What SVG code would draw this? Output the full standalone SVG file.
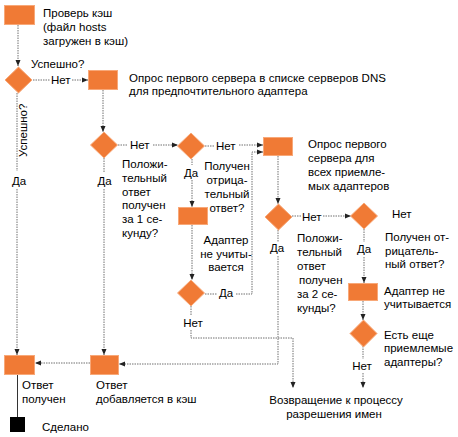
<svg xmlns="http://www.w3.org/2000/svg" width="458" height="437" viewBox="0 0 458 437">
<style>
text{font-family:"Liberation Sans",Arial,sans-serif;font-size:11.5px;fill:#000}
.m{text-anchor:middle}
.box{fill:#f07a35;stroke:#f8a878;stroke-width:1}
.dia{fill:#f07a35;stroke:#f8a878;stroke-width:1}
.c{fill:none;stroke:#707070;stroke-width:1;stroke-dasharray:1.5 1}
.s{fill:none;stroke:#333;stroke-width:1}
</style>
<defs>
<marker id="a" markerUnits="userSpaceOnUse" markerWidth="6" markerHeight="6" refX="6" refY="3" orient="auto">
<path d="M0,0.5 L6,3 L0,5.5 z" fill="#222"/>
</marker>
</defs>
<rect width="458" height="437" fill="#fff"/>
<g id="connectors">
<path class="c" d="M18,25 V66" marker-end="url(#a)"/>
<path class="c" d="M33,80 H50 M72,80 H88" marker-end="url(#a)"/>
<path class="c" d="M103,90 V132" marker-end="url(#a)"/>
<path class="c" d="M17,93 V171 M17,189 V355" marker-end="url(#a)"/>
<path class="c" d="M118,145 H128 M153,145 H178" marker-end="url(#a)"/>
<path class="c" d="M104,158 V172 M104,189 V355" marker-end="url(#a)"/>
<path class="c" d="M205,146 H215 M239,145 H263" marker-end="url(#a)"/>
<path class="c" d="M192,159 V165 M192,180 V207" marker-end="url(#a)"/>
<path class="c" d="M192,225 V280" marker-end="url(#a)"/>
<path class="c" d="M205,294 H217 M236,294 H252 V152 H263" marker-end="url(#a)"/>
<path class="c" d="M191,306 V315 M191,330 V338 H293 V388" marker-end="url(#a)"/>
<path class="c" d="M278,156 V204" marker-end="url(#a)"/>
<path class="c" d="M292,216 H301 M323,216 H351" marker-end="url(#a)"/>
<path class="c" d="M278,230 V242 M278,256 V364 H119" marker-end="url(#a)"/>
<path class="c" d="M90,363 H35" marker-end="url(#a)"/>
<path class="c" d="M364,229 V242 M364,257 V283" marker-end="url(#a)"/>
<path class="c" d="M363,301 V320" marker-end="url(#a)"/>
<path class="c" d="M363,346 V359 M363,373 V388" marker-end="url(#a)"/>
<path class="s" d="M17.5,375 V417"/>
</g>
<g id="check-cache">
<rect class="box" x="4.5" y="5.5" width="30" height="19"/>
<text x="43" y="17">Проверь кэш</text>
<text x="43" y="31">(файл hosts</text>
<text x="43" y="45">загружен в кэш)</text>
</g>
<g id="success1">
<polygon class="dia" points="18.5,67 32,80 18.5,93 5,80"/>
<text x="31" y="68">Успешно?</text>
<text transform="translate(27,157) rotate(-90)">Успешно?</text>
<text class="m" x="19" y="185">Да</text>
<text x="51" y="84">Нет</text>
</g>
<g id="query-preferred">
<rect class="box" x="88.5" y="70.5" width="29" height="19"/>
<text x="129" y="82" textLength="257">Опрос первого сервера в списке серверов DNS</text>
<text x="129" y="95">для предпочтительного адаптера</text>
</g>
<g id="positive1">
<polygon class="dia" points="104,132 117.5,145 104,158 90.5,145"/>
<text x="130" y="149">Нет</text>
<text class="m" x="104.5" y="185">Да</text>
<text x="122" y="168">Положи-</text>
<text x="122" y="182">тельный</text>
<text x="122" y="196">ответ</text>
<text x="122" y="209">получен</text>
<text x="122" y="223">за 1 се-</text>
<text x="122" y="237">кунду?</text>
</g>
<g id="negative1">
<polygon class="dia" points="191,133 204.5,146 191,159 177.5,146"/>
<text x="216" y="150">Нет</text>
<text class="m" x="191" y="177">Да</text>
<text class="m" x="227" y="170">Получен</text>
<text class="m" x="227" y="184">отрица-</text>
<text class="m" x="227" y="198">тельный</text>
<text class="m" x="227" y="212">ответ?</text>
</g>
<g id="ignore1">
<rect class="box" x="178.5" y="207.5" width="29" height="17"/>
<text class="m" x="226" y="244">Адаптер</text>
<text class="m" x="226" y="258">не учиты-</text>
<text class="m" x="226" y="271">вается</text>
</g>
<g id="more1">
<polygon class="dia" points="191,280 204.5,293 191,306 177.5,293"/>
<text x="219" y="297">Да</text>
<text class="m" x="193" y="327">Нет</text>
</g>
<g id="query-all">
<rect class="box" x="263.5" y="137.5" width="29" height="18"/>
<text x="308" y="148">Опрос первого</text>
<text x="308" y="162">сервера для</text>
<text x="308" y="176">всех приемле-</text>
<text x="308" y="190">мых адаптеров</text>
</g>
<g id="positive2">
<polygon class="dia" points="278.5,204 292,217 278.5,230 265,217"/>
<text x="302" y="221">Нет</text>
<text class="m" x="277" y="252">Да</text>
<text x="297" y="242">Положи-</text>
<text x="297" y="256">тельный</text>
<text x="297" y="270">ответ</text>
<text x="299" y="284">получен</text>
<text x="297" y="298">за 2 се-</text>
<text x="297" y="312">кунды?</text>
</g>
<g id="negative2">
<polygon class="dia" points="364,203 377.5,216 364,229 350.5,216"/>
<text class="m" x="364" y="253">Да</text>
<text x="392" y="218">Нет</text>
<text x="385" y="241">Получен от-</text>
<text x="385" y="255">рицатель-</text>
<text x="385" y="268">ный ответ?</text>
</g>
<g id="ignore2">
<rect class="box" x="348.5" y="283.5" width="29" height="17"/>
<text x="384" y="295">Адаптер не</text>
<text x="384" y="308">учитывается</text>
</g>
<g id="more2">
<polygon class="dia" points="363.5,320 377,333.5 363.5,347 350,333.5"/>
<text x="384" y="339">Есть еще</text>
<text x="384" y="352">приемлемые</text>
<text x="384" y="366">адаптеры?</text>
<text class="m" x="362" y="370">Нет</text>
</g>
<g id="return">
<text class="m" x="336" y="404">Возвращение к процессу</text>
<text class="m" x="334" y="418">разрешения имен</text>
</g>
<g id="answer-received">
<rect class="box" x="4.5" y="355.5" width="30" height="19"/>
<text x="22" y="389">Ответ</text>
<text x="22" y="403">получен</text>
</g>
<g id="answer-cached">
<rect class="box" x="90.5" y="355.5" width="28" height="19"/>
<text x="96" y="389">Ответ</text>
<text x="96" y="403">добавляется в кэш</text>
</g>
<g id="done">
<rect x="10" y="417" width="15" height="15" fill="#000"/>
<text x="42" y="431">Сделано</text>
</g>
</svg>
